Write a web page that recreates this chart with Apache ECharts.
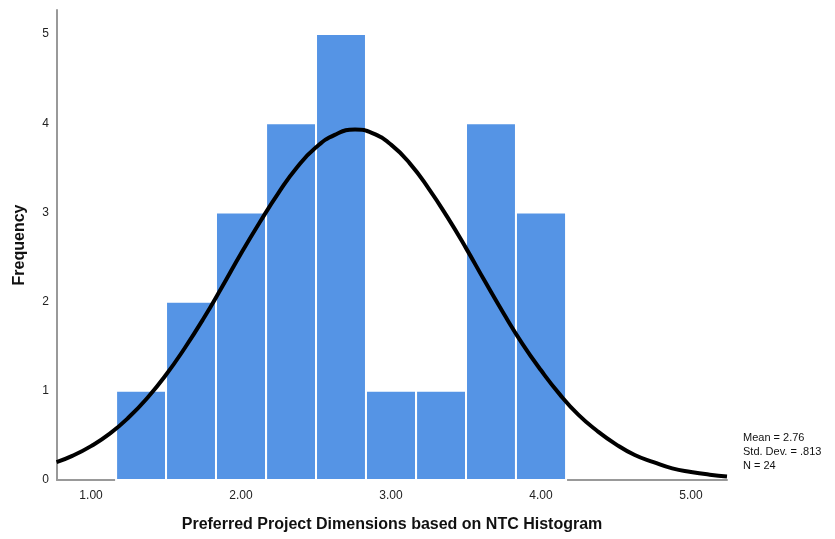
<!DOCTYPE html>
<html>
<head>
<meta charset="utf-8">
<script src="https://cdn.jsdelivr.net/npm/echarts@6/dist/echarts.min.js"></script>
<style>
  html, body { margin: 0; padding: 0; background: #fff; }
  #main { width: 835px; height: 539px; }
</style>
</head>
<body>
<div id="main"></div>
<script>
var myChart = echarts.init(document.getElementById('main'));

// histogram bins (lower edge, upper edge) and counts
var binLow = [1.167, 1.5, 1.833, 2.167, 2.5, 2.833, 3.167, 3.5, 3.833];
var binHigh = [1.5, 1.833, 2.167, 2.5, 2.833, 3.167, 3.5, 3.833, 4.167];
var counts = [1, 2, 3, 4, 5, 1, 1, 4, 3];

// normal curve points
var curveX = [0.77, 0.875, 1.0, 1.125, 1.25, 1.375, 1.5, 1.625, 1.75, 1.875, 2.0, 2.125, 2.25, 2.375, 2.5, 2.625,
    2.76, 2.875, 3.0, 3.125, 3.25, 3.375, 3.5, 3.625, 3.75, 3.875, 4.0, 4.125, 4.25, 4.375, 4.5, 4.625,
    4.75, 4.875, 5.0, 5.125, 5.24];
var curveY = [0.2, 0.27, 0.38, 0.52, 0.7, 0.92, 1.18, 1.48, 1.81, 2.17, 2.54, 2.89, 3.22, 3.51, 3.73, 3.87,
    3.93, 3.89, 3.76, 3.55, 3.27, 2.95, 2.6, 2.23, 1.87, 1.53, 1.23, 0.96, 0.73, 0.55, 0.4, 0.28,
    0.2, 0.13, 0.09, 0.06, 0.04];

var xTicks = [1, 2, 3, 4, 5];
var yTicks = [0, 1, 2, 3, 4, 5];
var statLines = ['Mean = 2.76', 'Std. Dev. = .813', 'N = 24'];

var barData = [];
for (var i = 0; i < counts.length; i++) {
    barData.push([binLow[i], binHigh[i], counts[i]]);
}
var curveData = [];
for (var j = 0; j < curveX.length; j++) {
    curveData.push([curveX[j], curveY[j]]);
}

option = {
    backgroundColor: '#fff',
    textStyle: { fontFamily: 'Liberation Sans, Arial, sans-serif' },
    grid: { left: 57, right: 108, top: 10, bottom: 59 },
    xAxis: {
        type: 'value',
        min: 0.773,
        max: 5.24,
        name: 'Preferred Project Dimensions based on NTC Histogram',
        nameLocation: 'middle',
        nameGap: 37,
        nameTextStyle: { fontSize: 16, fontWeight: 'bold', color: '#111' },
        splitLine: { show: false },
        axisTick: { show: false },
        axisLine: { lineStyle: { color: '#999', width: 2 } },
        axisLabel: {
            customValues: xTicks,
            color: '#222',
            fontSize: 12,
            margin: 10,
            formatter: function (v) { return v.toFixed(2); }
        }
    },
    yAxis: {
        type: 'value',
        min: 0,
        max: 5.27,
        name: 'Frequency',
        nameLocation: 'middle',
        nameGap: 29,
        nameTextStyle: { fontSize: 16, fontWeight: 'bold', color: '#111' },
        splitLine: { show: false },
        axisTick: { show: false },
        axisLine: { show: true, lineStyle: { color: '#999', width: 2 } },
        axisLabel: {
            customValues: yTicks,
            color: '#222',
            fontSize: 12,
            margin: 8
        }
    },
    graphic: [{
        type: 'text',
        left: 743,
        top: 431,
        style: {
            text: statLines.join('\n'),
            font: '11px Liberation Sans, Arial, sans-serif',
            lineHeight: 14,
            fill: '#111'
        }
    }],
    series: [
        {
            type: 'custom',
            data: barData,
            encode: { x: [0, 1], y: 2 },
            renderItem: function (params, api) {
                var p0 = api.coord([api.value(0), api.value(2)]);
                var p1 = api.coord([api.value(1), 0]);
                return {
                    type: 'rect',
                    shape: { x: p0[0], y: p0[1], width: p1[0] - p0[0], height: p1[1] - p0[1] },
                    style: { fill: '#5594e5', stroke: '#ffffff', lineWidth: 2 }
                };
            },
            z: 2
        },
        {
            type: 'line',
            data: curveData,
            smooth: true,
            showSymbol: false,
            lineStyle: { color: '#000', width: 4 },
            z: 3
        }
    ]
};

myChart.setOption(option);
</script>
</body>
</html>
